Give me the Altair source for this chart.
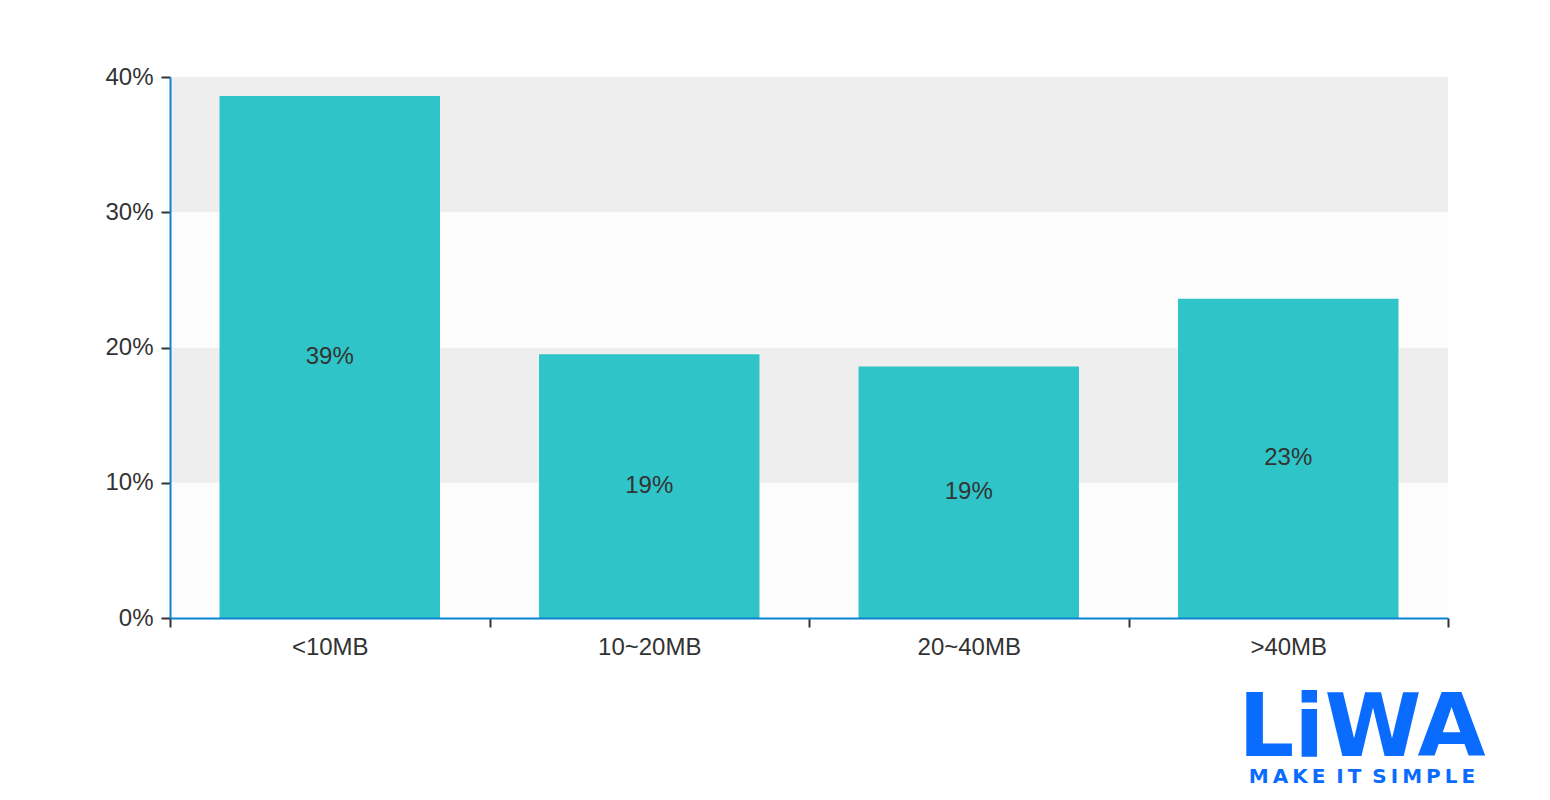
import altair as alt
import pandas as pd

categories = ["<10MB", "10~20MB", "20~40MB", ">40MB"]
values = [38.6, 19.5, 18.6, 23.6]
value_labels = ["39%", "19%", "19%", "23%"]

band_start = [0, 10, 20, 30]
band_end = [10, 20, 30, 40]
band_fill = ["#fcfcfc", "#eeeeee", "#fcfcfc", "#eeeeee"]

logo_main = ["LiWA"]
logo_sub = ["M\u2009A\u2009K\u2009E\u2009 I\u2009T\u2009 S\u2009I\u2009M\u2009P\u2009L\u2009E"]

W, H = 1278, 541
FONT = "Liberation Sans"
AXIS_BLUE = "#0a84d0"
DARK = "#333333"

df = pd.DataFrame({"cat": categories, "val": values, "lab": value_labels})
bands = pd.DataFrame({"y0": band_start, "y1": band_end, "fill": band_fill})

yscale = alt.Scale(domain=[0, 40], nice=False)
xscale = alt.Scale(domain=categories, paddingInner=0, paddingOuter=0)

yaxis = alt.Axis(values=[0, 10, 20, 30, 40], labelExpr="datum.value + '%'",
                 domainColor=AXIS_BLUE, domainWidth=2, tickColor=DARK,
                 tickSize=9, tickWidth=2, labelColor=DARK, zindex=1,
                 labelFontSize=24, labelFont=FONT, labelPadding=8, grid=False)
xaxis = alt.Axis(labelAngle=0, tickBand="extent", domainColor=AXIS_BLUE,
                 domainWidth=2, tickColor=DARK, tickSize=9, tickWidth=2,
                 labelColor=DARK, labelFontSize=24, labelFont=FONT, zindex=1,
                 labelPadding=8, grid=False)

bg = alt.Chart(bands).mark_rect().encode(
    x=alt.value(0), x2=alt.value(W),
    y=alt.Y("y0:Q", scale=yscale, axis=yaxis, title=None),
    y2="y1:Q",
    color=alt.Color("fill:N", scale=None),
)

bars = alt.Chart(df).mark_bar(color="#2fc5c8", width=alt.RelativeBandSize(0.69)).encode(
    x=alt.X("cat:N", sort=categories, scale=xscale, title=None, axis=xaxis),
    y=alt.Y("val:Q", scale=yscale, title=None, axis=yaxis),
)

text = alt.Chart(df).transform_calculate(mid="datum.val / 2").mark_text(
    font=FONT, fontSize=24, color=DARK, baseline="middle"
).encode(
    x=alt.X("cat:N", sort=categories, scale=xscale),
    y=alt.Y("mid:Q", scale=yscale),
    text="lab:N",
)

logo1 = alt.Chart(pd.DataFrame({"t": logo_main})).mark_text(
    font="DejaVu Sans", fontWeight="bold", fontSize=88, color="#0a6cff",
    align="center", baseline="alphabetic"
).encode(x=alt.value(1192), y=alt.value(679), text="t:N")

logo2 = alt.Chart(pd.DataFrame({"t": logo_sub})).mark_text(
    font="DejaVu Sans", fontWeight="bold", fontSize=20, color="#0a6cff",
    align="center", baseline="alphabetic"
).encode(x=alt.value(1192), y=alt.value(706), text="t:N")

chart = alt.layer(bg, bars, text, logo1, logo2).properties(
    width=W, height=H,
    autosize=alt.AutoSizeParams(type="none"),
    padding={"left": 162, "top": 69, "right": 80, "bottom": 170},
).configure_view(stroke=None)

chart.save("out.html", embed_options={"renderer": "svg", "actions": False})
